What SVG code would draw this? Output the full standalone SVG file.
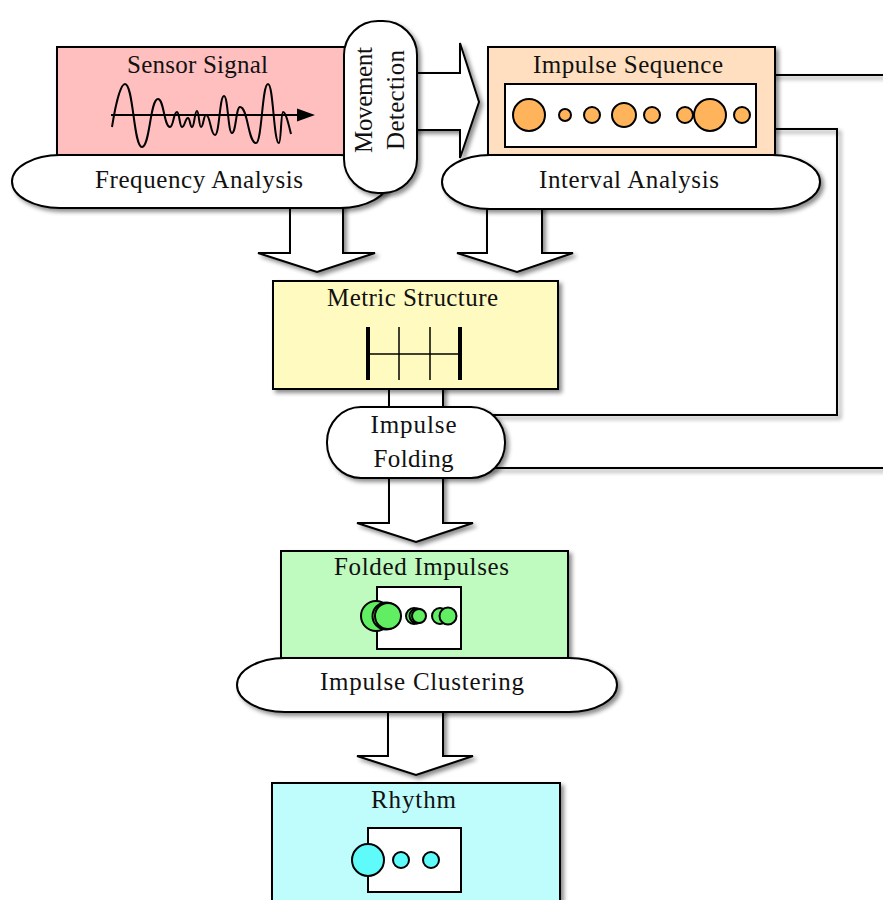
<svg xmlns="http://www.w3.org/2000/svg" width="883" height="900" viewBox="0 0 883 900">
<defs>
<filter id="sh" filterUnits="userSpaceOnUse" x="0" y="0" width="900" height="920">
<feDropShadow dx="3" dy="3" stdDeviation="2" flood-color="#000" flood-opacity="0.45"/>
</filter>
<style>
.bx{stroke:#000;stroke-width:2;filter:url(#sh)}
.wh{fill:#fff;stroke:#000;stroke-width:2}
.ar{fill:#fff;stroke:#000;stroke-width:2;stroke-linejoin:miter;filter:url(#sh)}
.ln{fill:none;stroke:#000;stroke-width:2;filter:url(#sh)}
.t{font-family:"Liberation Serif","Times New Roman",serif;font-size:25px;fill:#111;text-anchor:middle}
.c{stroke:#000;stroke-width:2}
.or{fill:#ffb35a}
.gr{fill:#62ee62}
.cy{fill:#5ffafa}
</style>
</defs>
<rect width="883" height="900" fill="#fff"/>
<g id="connectors">
<polygon class="ar" points="400,73 460,73 460,43 479,102 460,158 460,130 400,130"/>
<polygon class="ar" points="290,195 343,195 343,253 375,253 317,272 258,253 290,253"/>
<polygon class="ar" points="487,195 542,195 542,253 573,253 517,272 457,253 487,253"/>
<polygon class="ar" points="389,385 443,385 443,523 473,523 416,542 357,523 389,523"/>
<polygon class="ar" points="388,705 443,705 443,756 473,756 416,775 357,756 388,756"/>
<polyline class="ln" points="770,75 885,75"/>
<polyline class="ln" points="770,129 837,129 837,415 480,415"/>
<polyline class="ln" points="480,468 885,468"/>
</g>
<g id="sensor-signal">
<rect class="bx" x="57" y="47" width="288" height="110" fill="#ffbfbf"/>
<text class="t" x="197.5" y="73" textLength="141">Sensor Signal</text>
<line x1="111" y1="115" x2="300" y2="115" stroke="#000" stroke-width="2"/>
<polygon points="297,108.5 315,115 297,121.5" fill="#000"/>
<path fill="none" stroke="#000" stroke-width="2" d="M112,127 C115,108 120,84 125,84 C133.5,84 133.5,147 142,147 C150,147 150,99 158,99 C164,99 164,127 170,127 C173.5,127 173.5,112 177,112 C179.5,112 179.5,127 182,127 C185,127 185,118 188,118 C190,118 190,127 192,127 C194.5,127 194.5,111 197,111 C199,111 199,127 201,127 C203.5,127 203.5,115 206,115 C210.5,115 210.5,135 215,135 C219.5,135 219.5,96 224,96 C228,96 228,133 232,133 C236,133 236,107 240,107 C248,107 248,143 256,143 C262,143 262,84 268,84 C273.5,84 273.5,143 279,143 C281,143 281,112 283,112 C286,112 289,126 291,134"/>
</g>
<g id="frequency-analysis">
<rect class="bx" x="12" y="155" width="376" height="53" rx="48" ry="26.5" fill="#fff"/>
<text class="t" x="199" y="188" textLength="208">Frequency Analysis</text>
</g>
<g id="movement-detection">
<rect class="bx" x="344" y="21" width="73" height="172" rx="34" ry="34" fill="#fff"/>
<text class="t" transform="translate(372,100) rotate(-90)" x="0" y="0" textLength="106">Movement</text>
<text class="t" transform="translate(404,100) rotate(-90)" x="0" y="0" textLength="100">Detection</text>
</g>
<g id="impulse-sequence">
<rect class="bx" x="488" y="47" width="287" height="110" fill="#ffdfbf"/>
<text class="t" x="628" y="73" textLength="190">Impulse Sequence</text>
<rect class="wh" x="505" y="84" width="251" height="63"/>
<circle class="c or" cx="529" cy="115" r="16"/>
<circle class="c or" cx="565" cy="115" r="6"/>
<circle class="c or" cx="592" cy="115" r="8"/>
<circle class="c or" cx="624" cy="115" r="12"/>
<circle class="c or" cx="652" cy="115" r="8"/>
<circle class="c or" cx="685" cy="115" r="8"/>
<circle class="c or" cx="710" cy="115" r="16"/>
<circle class="c or" cx="742" cy="115" r="8"/>
</g>
<g id="interval-analysis">
<rect class="bx" x="442" y="155" width="378" height="54" rx="48" ry="27" fill="#fff"/>
<text class="t" x="629" y="188" textLength="180">Interval Analysis</text>
</g>
<g id="metric-structure">
<rect class="bx" x="273" y="281" width="285" height="108" fill="#fffac0"/>
<text class="t" x="412.5" y="306" textLength="171">Metric Structure</text>
<line x1="368" y1="354" x2="460" y2="354" stroke="#000" stroke-width="1.5"/>
<line x1="368" y1="327" x2="368" y2="380" stroke="#000" stroke-width="4"/>
<line x1="399" y1="327" x2="399" y2="380" stroke="#000" stroke-width="1.5"/>
<line x1="430" y1="327" x2="430" y2="380" stroke="#000" stroke-width="1.5"/>
<line x1="460" y1="327" x2="460" y2="380" stroke="#000" stroke-width="4"/>
</g>
<g id="impulse-folding">
<rect class="bx" x="327" y="407" width="178" height="71" rx="34" ry="35" fill="#fff"/>
<text class="t" x="413.5" y="433" textLength="86">Impulse</text>
<text class="t" x="413.5" y="467" textLength="80">Folding</text>
</g>
<g id="folded-impulses">
<rect class="bx" x="281" y="551" width="287" height="107" fill="#bffabf"/>
<text class="t" x="421.5" y="575" textLength="175">Folded Impulses</text>
<rect class="wh" x="377" y="587" width="84" height="62"/>
<circle class="c gr" cx="376" cy="616" r="15"/>
<circle class="c gr" cx="386" cy="616" r="13.5"/>
<circle class="c gr" cx="388" cy="616" r="13"/>
<circle class="c gr" cx="414" cy="616" r="8"/>
<circle class="c gr" cx="417" cy="616" r="7.5"/>
<circle class="c gr" cx="419" cy="616" r="7"/>
<circle class="c gr" cx="440" cy="616" r="8"/>
<circle class="c gr" cx="448" cy="616" r="8.5"/>
</g>
<g id="impulse-clustering">
<rect class="bx" x="237" y="658" width="380" height="54" rx="48" ry="27" fill="#fff"/>
<text class="t" x="422" y="690" textLength="204">Impulse Clustering</text>
</g>
<g id="rhythm">
<rect class="bx" x="272" y="783" width="288" height="130" fill="#bffcfc"/>
<text class="t" x="413.5" y="808" textLength="85">Rhythm</text>
<rect class="wh" x="368" y="828" width="93" height="64"/>
<circle class="c cy" cx="368" cy="860" r="16"/>
<circle class="c cy" cx="401" cy="860" r="8"/>
<circle class="c cy" cx="431" cy="860" r="8"/>
</g>
</svg>
